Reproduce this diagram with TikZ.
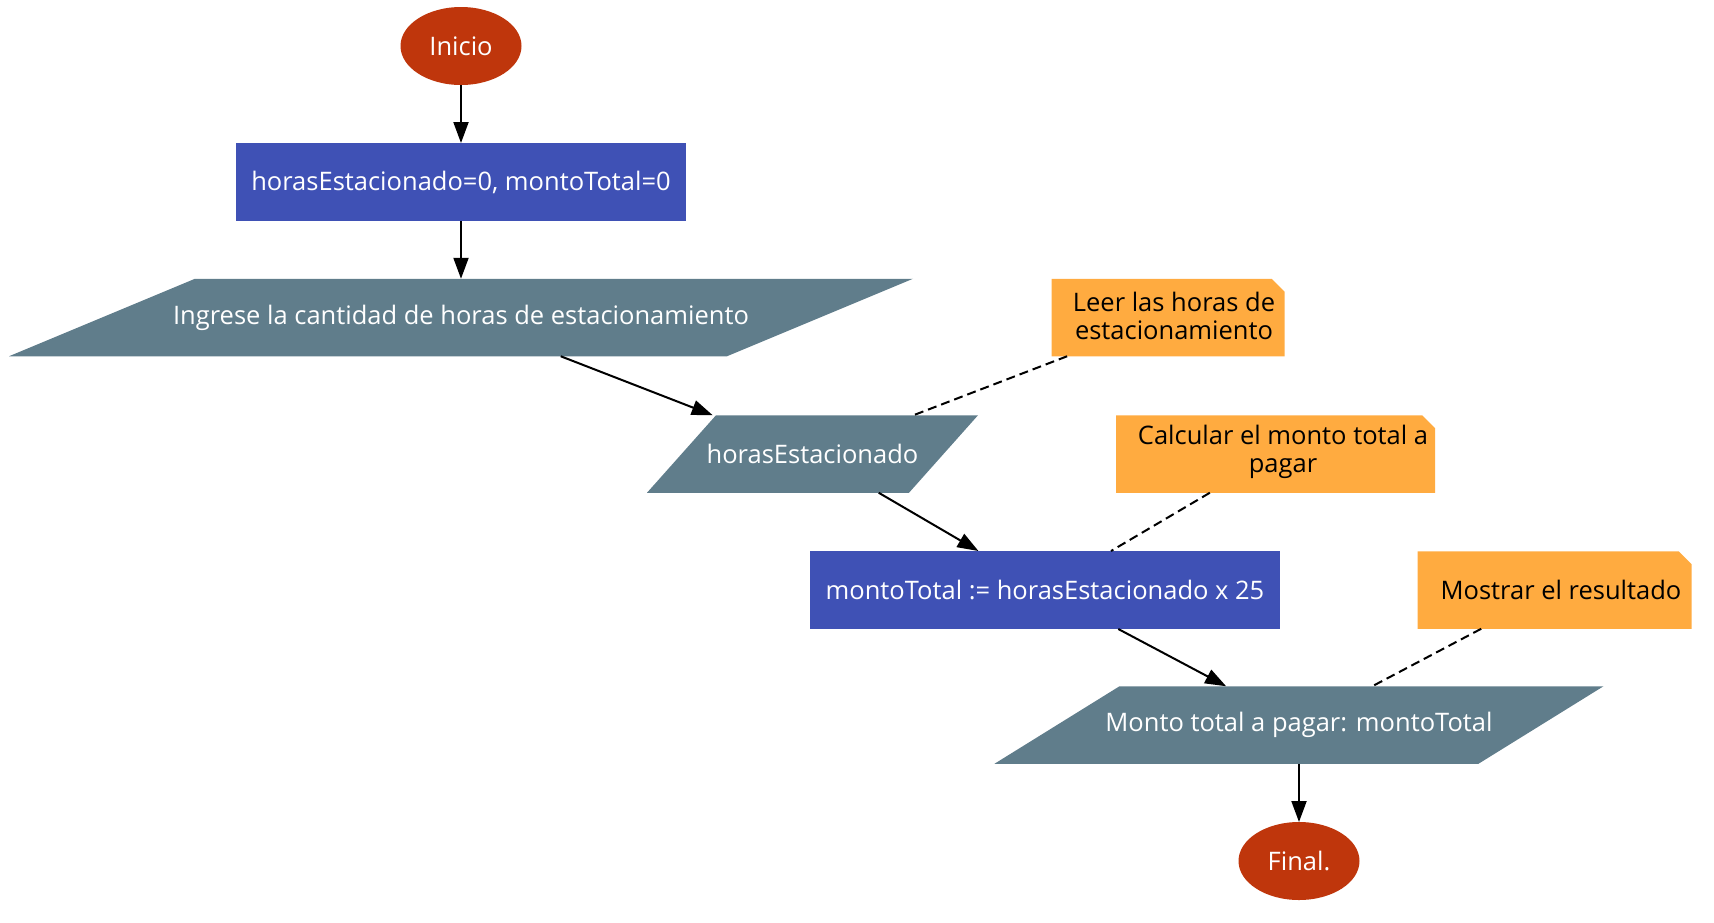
\documentclass[tikz,border=0pt]{standalone}
\usepackage{fontspec}
\setmainfont{Open Sans}
\usetikzlibrary{shapes.geometric,arrows.meta}
\definecolor{cRed}{HTML}{BF360C}
\definecolor{cBlue}{HTML}{3F51B5}
\definecolor{cGrey}{HTML}{607D8B}
\definecolor{cNote}{HTML}{FFAB40}
\begin{document}
\begin{tikzpicture}[x=1pt,y=-1pt,
  every node/.style={font=\fontsize{25.5}{28}\selectfont, inner sep=0pt, outer sep=0pt},
  term/.style={ellipse, fill=cRed, text=white, minimum width=121pt, minimum height=78pt},
  procbox/.style={rectangle, fill=cBlue, text=white, minimum height=78pt},
  para/.style={rectangle, text=white, minimum height=77.5pt,
    path picture={\fill[cGrey] ([xshift=#1]path picture bounding box.north west) -- (path picture bounding box.north east) -- ([xshift=-#1]path picture bounding box.south east) -- (path picture bounding box.south west) -- cycle;}},
  notebox/.style={rectangle, minimum height=77.5pt,
    path picture={\fill[cNote] (path picture bounding box.south west) -- (path picture bounding box.north west) -- ([xshift=-13pt]path picture bounding box.north east) -- ([yshift=-13pt]path picture bounding box.north east) -- (path picture bounding box.south east) -- cycle;}},
  notetext/.style={text=black, align=center},
  edge/.style={line width=2pt, -{Triangle[length=21pt,width=15pt]}},
  noteline/.style={line width=2pt, dash pattern=on 9pt off 5pt}
]
\useasboundingbox (0,0) rectangle (1714,922);
\node[term] (start) at (461,46) {Inicio};
\node[procbox, minimum width=450pt] (b1) at (461,182) {horasEstacionado=0, montoTotal=0};
\node[para=186pt, minimum width=904pt] (p1) at (461,317.5) {Ingrese la cantidad de horas de estacionamiento};
\node[para=69pt, minimum width=331pt] (p2) at (812.5,454) {horasEstacionado};
\node[procbox, minimum width=470pt] (b2) at (1045,590) {montoTotal := horasEstacionado x 25};
\node[para=125pt, minimum width=609pt] (p3) at (1299,725) {Monto total a pagar: montoTotal};
\node[term] (fin) at (1299,861) {Final.};
\node[notebox, minimum width=233pt] (n1) at (1168,317.5) {};
\node[notetext] (n1t) at (1174,315.5) {Leer las horas de\\estacionamiento};
\node[notebox, minimum width=319pt] (n2) at (1275.5,454) {};
\node[notetext] (n2t) at (1283,452) {Calcular el monto total a\\pagar};
\node[notebox, minimum width=274pt] (n3) at (1554.5,590) {};
\node[notetext] (n3t) at (1561,590) {Mostrar el resultado};
\draw[edge] (start) -- (b1);
\draw[edge] (b1) -- (p1);
\draw[edge] (p1) -- (p2);
\draw[edge] (p2) -- (b2);
\draw[edge] (b2) -- (p3);
\draw[edge] (p3) -- (fin);
\draw[noteline] (n1) -- (p2);
\draw[noteline] (n2) -- (b2);
\draw[noteline] (n3) -- (p3);
\end{tikzpicture}
\end{document}
